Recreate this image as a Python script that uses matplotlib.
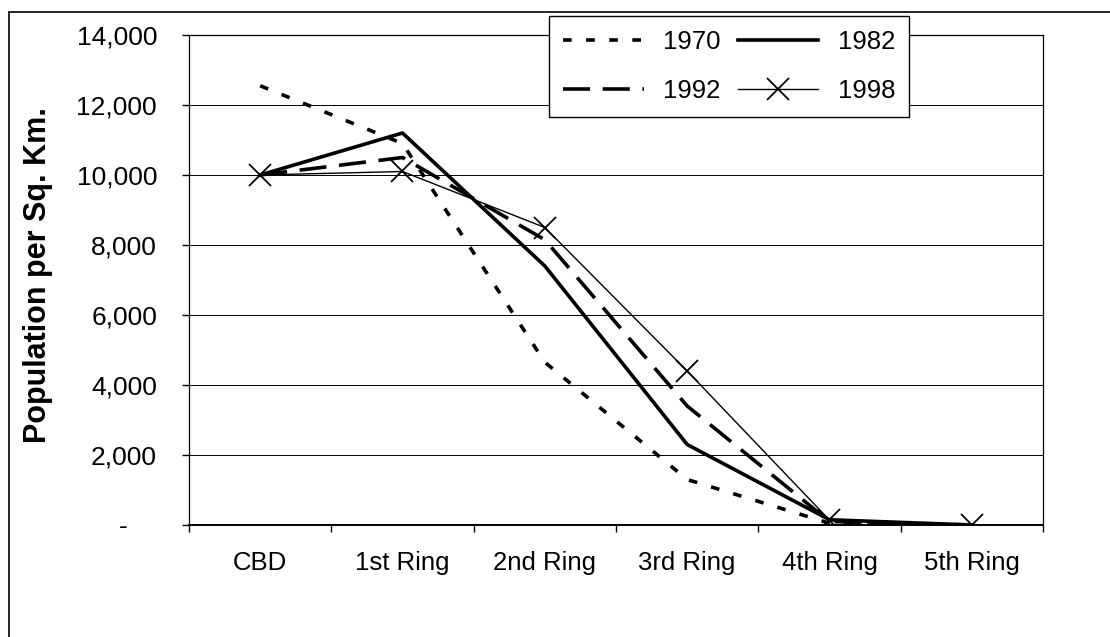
import numpy as np
import matplotlib
matplotlib.use('Agg')
import matplotlib.pyplot as plt
from matplotlib.patches import Rectangle
from matplotlib.ticker import FuncFormatter, FixedLocator

plt.rcParams['font.family'] = ['Liberation Sans', 'DejaVu Sans']

# rings around the CBD
rings = ['CBD', '1st Ring', '2nd Ring', '3rd Ring', '4th Ring', '5th Ring']

# population per sq. km
pop_1970 = [12550, 10900, 4650, 1300, 50, 0]
pop_1982 = [10000, 11200, 7400, 2300, 150, 0]
pop_1992 = [10000, 10500, 8150, 3400, 100, 0]
pop_1998 = [10000, 10100, 8500, 4400, 140, 0]

W, H = 1110, 637
fig = plt.figure(figsize=(W / 100, H / 100), dpi=100)
ax = fig.add_axes([189 / W, 1 - 525 / H, (1043 - 189) / W, 490 / H])

x = np.arange(len(rings))
l70, = ax.plot(x, pop_1970, color='black', lw=2.6, dashes=(2.4, 4.0), label='1970')
l82, = ax.plot(x, pop_1982, color='black', lw=2.6, label='1982')
l92, = ax.plot(x, pop_1992, color='black', lw=2.6, dashes=(7.5, 3.5), label='1992')
l98, = ax.plot(x, pop_1998, color='black', lw=1.0, marker='x', markersize=16,
               markeredgewidth=1.3, label='1998')

ax.set_xlim(-0.5, len(rings) - 0.5)
ax.set_ylim(0, 14000)
ax.set_yticks(np.arange(0, 14001, 2000))
ax.yaxis.set_major_formatter(FuncFormatter(lambda v, p: '-    ' if v == 0 else '{:,.0f}'.format(v)))
ax.grid(axis='y', color='black', lw=0.7)
ax.set_axisbelow(True)

ax.set_xticks(x)
ax.set_xticklabels(rings)
ax.xaxis.set_minor_locator(FixedLocator(np.arange(-0.5, len(rings), 1.0)))
ax.tick_params(axis='x', which='major', length=0, pad=19, labelsize=18.5)
ax.tick_params(axis='x', which='minor', length=5, width=1, direction='out')
ax.tick_params(axis='y', length=5, width=1, direction='out', pad=18, labelsize=19)

for s in ax.spines.values():
    s.set_color('black')
    s.set_linewidth(0.9)
ax.spines['bottom'].set_linewidth(1.4)

fig.text(38 / W, 1 - 275 / H, 'Population per Sq. Km.', rotation=90, ha='center', va='center',
         fontsize=22, fontweight='bold')

leg = fig.legend(handles=[l70, l92, l82, l98], ncol=2, loc='upper left',
                 bbox_to_anchor=(549 / W, 1 - 16 / H), fontsize=18.5,
                 handlelength=3.15, handletextpad=0.75, columnspacing=0.65,
                 labelspacing=0.95, borderpad=0.55, borderaxespad=0,
                 fancybox=False, framealpha=1, edgecolor='black')
leg.get_frame().set_linewidth(1.0)

# outer chart frame, cut off at right and bottom
fig.patches.append(Rectangle((9 / W, -0.2), 1.2, 1.2 - 12 / H, transform=fig.transFigure,
                             fill=False, edgecolor='black', lw=1.2))

plt.savefig('out.png', dpi=100)
